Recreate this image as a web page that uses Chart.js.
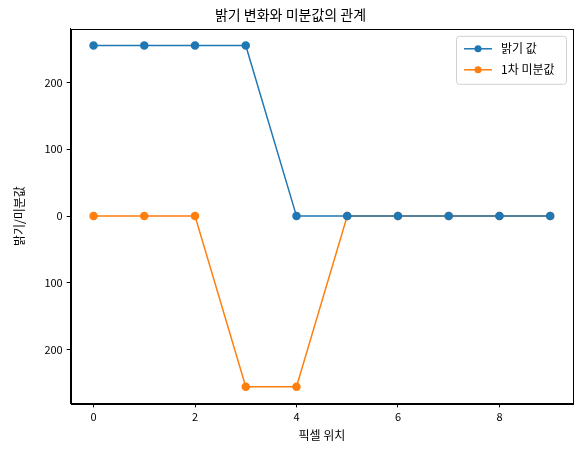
<!DOCTYPE html>
<html><head><meta charset="utf-8">
<script src="https://cdn.jsdelivr.net/npm/chart.js@4"></script>
<style>body{margin:0;background:#fff}#w{width:583px;height:453px}</style>
</head><body><div id="w"><canvas id="c"></canvas></div>
<script>
const positions = [0,1,2,3,4,5,6,7,8,9];
const brightness = [255,255,255,255,0,0,0,0,0,0];
const derivative = [0,0,0,-255,-255,0,0,0,0,0];
const seriesNames = ['밝기 값','1차 미분값'];
const F = "'Noto Sans CJK KR','DejaVu Sans',sans-serif";
const legendPlugin = {
  id:'boxLegend',
  afterDraw(chart){
    const ctx=chart.ctx, a=chart.chartArea;
    ctx.save();
    ctx.strokeStyle='#000';ctx.lineWidth=1;
    ctx.strokeRect(Math.round(a.left)+0.5,Math.round(a.top)+0.5,Math.round(a.right-a.left),Math.round(a.bottom-a.top));
    const w=110,h=48,x=a.right-w-7,y=a.top+7;
    ctx.fillStyle='rgba(255,255,255,0.8)';ctx.strokeStyle='#d0d0d0';
    ctx.beginPath();ctx.roundRect(x+0.5,y+0.5,w,h,3);ctx.fill();ctx.stroke();
    chart.data.datasets.forEach((d,i)=>{
      const cy=y+13+i*21;
      ctx.strokeStyle=d.borderColor;ctx.lineWidth=1.5;
      ctx.beginPath();ctx.moveTo(x+8,cy);ctx.lineTo(x+36,cy);ctx.stroke();
      ctx.fillStyle=d.borderColor;ctx.beginPath();ctx.arc(x+22,cy,3.5,0,Math.PI*2);ctx.fill();
      ctx.fillStyle='#000';ctx.font='12px '+F;ctx.textBaseline='middle';
      ctx.fillText(d.label,x+45,cy);
    });
    ctx.restore();
  }
};
const axisGrid={display:true,drawOnChartArea:false,drawTicks:true,tickLength:4,color:'#000'};
new Chart(document.getElementById('c'),{
  type:'line',
  data:{datasets:[
    {label:seriesNames[0],data:positions.map((p,i)=>({x:p,y:brightness[i]})),borderColor:'#1f77b4',backgroundColor:'#1f77b4',borderWidth:1.5,pointRadius:3.5,pointHoverRadius:3.5,tension:0},
    {label:seriesNames[1],data:positions.map((p,i)=>({x:p,y:derivative[i]})),borderColor:'#ff7f0e',backgroundColor:'#ff7f0e',borderWidth:1.5,pointRadius:3.5,pointHoverRadius:3.5,tension:0}
  ]},
  plugins:[legendPlugin],
  options:{
    responsive:true,maintainAspectRatio:false,animation:false,
    layout:{padding:{left:8,right:10,top:0,bottom:6}},
    plugins:{legend:{display:false},tooltip:{enabled:false},
      title:{display:true,text:'밝기 변화와 미분값의 관계',color:'#000',font:{family:F,size:14,weight:'normal'},padding:{top:6,bottom:6}}},
    scales:{
      x:{type:'linear',min:-0.45,max:9.45,
        afterBuildTicks(s){s.ticks=[0,2,4,6,8].map(v=>({value:v}));},
        grid:axisGrid,border:{color:'#000'},
        ticks:{color:'#000',font:{family:F,size:11},padding:3},
        title:{display:true,text:'픽셀 위치',color:'#000',font:{family:F,size:12},padding:{top:2}}},
      y:{min:-280,max:280,
        afterBuildTicks(s){s.ticks=[-200,-100,0,100,200].map(v=>({value:v}));},
        grid:axisGrid,border:{color:'#000'},
        ticks:{color:'#000',font:{family:F,size:11},padding:4,callback:v=>String(Math.abs(v))},
        title:{display:true,text:'밝기/미분값',color:'#000',font:{family:F,size:12},padding:{bottom:14}}}
    }
  }
});
</script></body></html>
